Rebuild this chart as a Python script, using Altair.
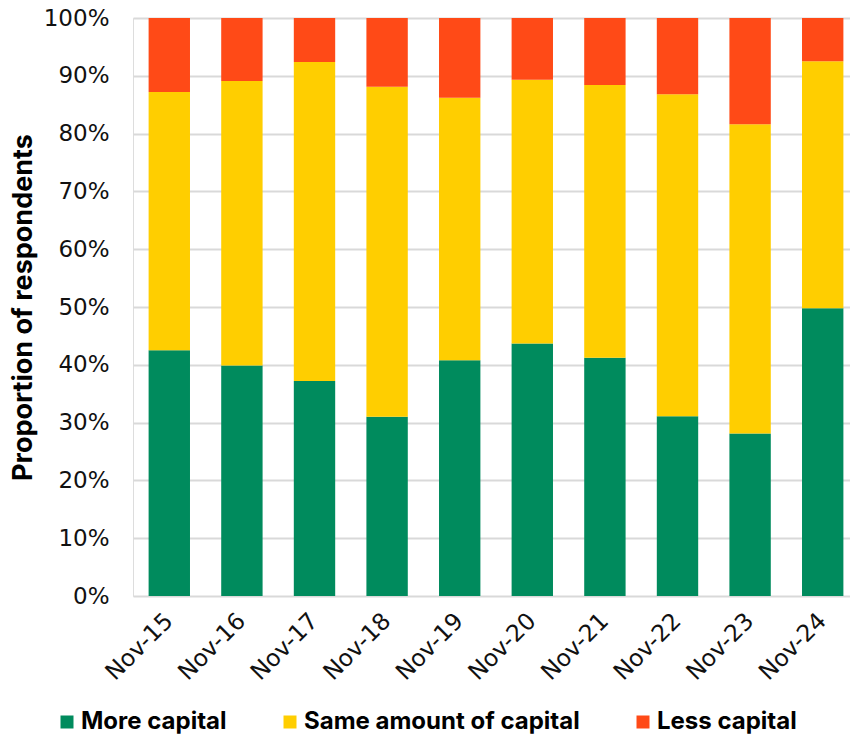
import altair as alt
import pandas as pd

months = ["Nov-15", "Nov-16", "Nov-17", "Nov-18", "Nov-19",
          "Nov-20", "Nov-21", "Nov-22", "Nov-23", "Nov-24"]
more_capital = [42.5, 39.9, 37.2, 31.0, 40.8, 43.7, 41.2, 31.1, 28.1, 49.8]
same_capital = [44.7, 49.2, 55.2, 57.1, 45.4, 45.6, 47.2, 55.7, 53.5, 42.7]
less_capital = [12.8, 10.9, 7.6, 11.9, 13.8, 10.7, 11.6, 13.2, 18.4, 7.5]

series = ["More capital", "Same amount of capital", "Less capital"]
colors = ["#008b5d", "#ffce00", "#ff4a17"]

rows = []
for i, m in enumerate(months):
    for k, (name, vals) in enumerate(zip(series, [more_capital, same_capital, less_capital])):
        rows.append({"month": m, "series": name, "value": vals[i], "order": k})
df = pd.DataFrame(rows)

FONT = "DejaVu Sans"
BFONT = "Inter"

chart = alt.Chart(df).mark_bar().encode(
    x=alt.X("month:N", sort=months, title=None,
            scale=alt.Scale(range=[0, 726], paddingInner=0.43, paddingOuter=0.215),
            axis=alt.Axis(labelAngle=-45, labelFontSize=23.5, labelFont=FONT,
                          labelColor="#111111", ticks=False, domain=False,
                          labelPadding=21, labelAlign="right", labelBaseline="middle")),
    y=alt.Y("value:Q", stack="zero", title="Proportion of respondents",
            scale=alt.Scale(domain=[0, 100]),
            axis=alt.Axis(values=list(range(0, 101, 10)),
                          labelExpr="datum.value + '%'",
                          labelFontSize=23, labelFont=FONT, labelColor="#111111",
                          ticks=False, domain=False, labelPadding=24,
                          grid=True, gridColor="#d9d9d9", gridWidth=2,
                          titleFontSize=27, titleFont=BFONT, titleFontWeight="bold",
                          titleColor="#000000", titlePadding=6)),
    color=alt.Color("series:N", sort=series,
                    scale=alt.Scale(domain=series, range=colors),
                    legend=alt.Legend(title=None, orient="none", direction="horizontal",
                                      legendX=-78, legendY=692,
                                      symbolType="square", symbolSize=169,
                                      symbolStrokeWidth=0,
                                      labelFontSize=24, labelFont=BFONT,
                                      labelFontWeight="bold", labelColor="#000000",
                                      labelOffset=2, columnPadding=51, labelLimit=0)),
    order=alt.Order("order:Q", sort="ascending"),
).properties(
    width=717, height=578,
    autosize=alt.AutoSizeParams(type="none"),
    padding={"left": 133, "top": 18, "right": 0, "bottom": 139},
).configure_view(stroke=None).configure(background="white")

chart.save("out.html", embed_options={"renderer": "svg", "actions": False})
